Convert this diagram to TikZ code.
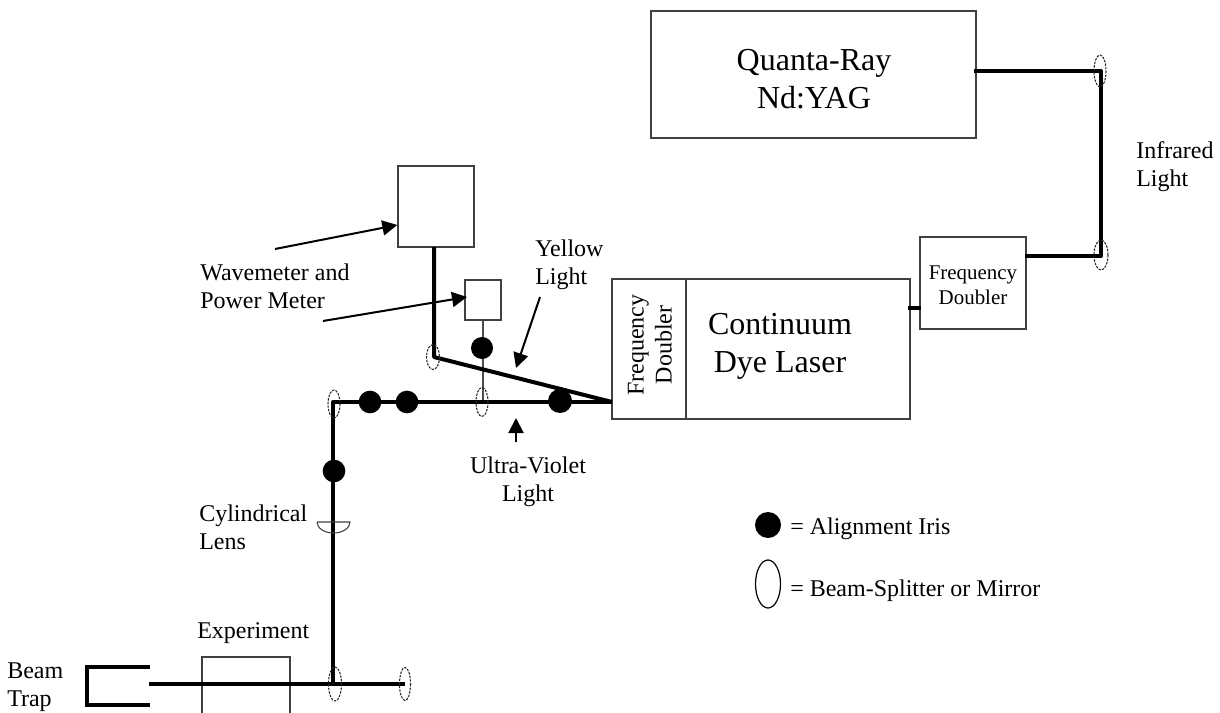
\documentclass[tikz,border=0pt]{standalone}
\usepackage{fontspec}
\setmainfont{Liberation Serif}
\usetikzlibrary{arrows.meta}
\tikzset{
  box/.style={draw=black!75,line width=1pt,inner sep=0pt},
  beam/.style={draw=black,line width=3pt},
  thinbeam/.style={draw=black!70,line width=1.2pt},
  irisdot/.style={circle,fill=black,inner sep=0pt,minimum size=#1},
  mirror/.style={draw=black!85,line width=.8pt,dash pattern=on 1.8pt off .9pt},
  pointer/.style={draw=black,line width=1.5pt,-{Triangle[length=11.25pt,width=11.25pt]}},
  lab/.style={inner sep=0pt,align=left,font=\fontsize{18}{21}\selectfont},
  big/.style={inner sep=0pt,align=center,font=\fontsize{24}{29}\selectfont},
  small/.style={inner sep=0pt,align=center,font=\fontsize{15.7}{18.6}\selectfont},
}
\begin{document}
\begin{tikzpicture}[x=.75pt,y=-.75pt]
\useasboundingbox (0,0) rectangle (1220,713);
% boxes
\node[box,minimum width=243.75pt,minimum height=95.25pt] (quanta) at (813.5,74.5) {};
\node[box,minimum width=79.5pt,minimum height=69pt] (fd) at (973,283) {};
\node[box,minimum width=223.5pt,minimum height=105pt] (dye) at (761,349) {};
\coordinate (divtop) at (686,279); \coordinate (divbot) at (686,419);
\draw[box] (divtop) -- (divbot);
\node[box,minimum width=57pt,minimum height=60.75pt] (wave) at (436,206.5) {};
\node[box,minimum width=27pt,minimum height=30pt] (power) at (483,300) {};
\coordinate (exa) at (202,713); \coordinate (exb) at (202,657); \coordinate (exc) at (290,657); \coordinate (exd) at (290,713);
\draw[box] (exa) -- (exb) -- (exc) -- (exd);
% junctions
\coordinate (m1) at (1101,71);
\coordinate (m2) at (1101,256);
\coordinate (m3) at (434,357);
\coordinate (m4) at (333,402);
\coordinate (m5) at (483,402);
\coordinate (m6) at (333,684);
\coordinate (m7) at (405,684);
\coordinate (qout) at (974,71);
\coordinate (fdout) at (1025,256);
\coordinate (dyeout) at (612,402);
\coordinate (wavein) at (434,247);
\coordinate (beamend) at (149,684);
\coordinate (ta) at (150,667); \coordinate (tb) at (87,667); \coordinate (tc) at (87,705); \coordinate (td) at (150,705);
% beams
\draw[thinbeam] (power.south) -- (m5);
\draw[beam,line join=round] (qout) -- (m1) -- (m2) -- (fdout);
\coordinate (la) at (908,308); \coordinate (lb) at (921,308);
\draw[beam] (la) -- (lb);
\draw[beam,line join=round] (wavein) -- (m3) -- (dyeout);
\draw[beam,line join=round] (dyeout) -- (m4) -- (m6);
\draw[beam] (beamend) -- (m7);
\draw[line width=3.2pt,miter limit=10] (ta) -- (tb) -- (tc) -- (td);
% irises
\node[irisdot=16.5pt] (i1) at (482,348) {};
\node[irisdot=17pt] (i2) at (370,402) {};
\node[irisdot=17pt] (i3) at (407,402) {};
\node[irisdot=18pt] (i4) at (560,401) {};
\node[irisdot=17pt] (i5) at (334,471) {};
% mirrors
\draw[mirror] (1100,71) ellipse [x radius=6,y radius=16];
\draw[mirror] (1101,255) ellipse [x radius=7,y radius=15];
\draw[mirror] (433,357) ellipse [x radius=6.5,y radius=12.5];
\draw[mirror] (334,404) ellipse [x radius=6,y radius=14];
\draw[mirror] (482,402) ellipse [x radius=6,y radius=14.5];
\draw[mirror] (335,684) ellipse [x radius=6.5,y radius=17];
\draw[mirror] (405,684) ellipse [x radius=5.5,y radius=16.5];
% lens
\draw[black!75,line width=.8pt] (317,522) -- (350,522) arc[start angle=0,end angle=180,x radius=16.5,y radius=11];
% pointers
\coordinate (p1) at (275,249); \coordinate (p2) at (323,321); \coordinate (p2e) at (467,297); \coordinate (p3) at (540,297);
\coordinate (p3e) at (516,368); \coordinate (p4) at (516,442); \coordinate (p4e) at (516,418);
\draw[pointer] (p1) -- (wave.west |- 0,225);
\draw[pointer] (p2) -- (p2e);
\draw[pointer] (p3) -- (p3e);
\draw[pointer] (p4) -- (p4e);
% text
\node[big] (tq) at (814,79) {Quanta-Ray\\Nd:YAG};
\node[big] (tdl) at (780,346.5) {Continuum\\Dye Laser};
\node[small] (tf) at (973,285) {Frequency\\Doubler};
\node[lab,align=center,rotate=90] (tf2) at (650,345) {Frequency\\Doubler};
\node[lab,anchor=west] (tir) at (1136,167) {Infrared\\Light};
\node[lab,anchor=west] (ty) at (535,265) {Yellow\\Light};
\node[lab,anchor=west] (tw) at (200,286.5) {Wavemeter and\\Power Meter};
\node[lab,align=center] (tu) at (528,481.5) {Ultra-Violet\\Light};
\node[lab,anchor=west] (tc2) at (199,527.5) {Cylindrical\\Lens};
\node[lab,anchor=west] (te) at (197,633) {Experiment};
\node[lab,anchor=west] (tbt) at (7,687) {Beam\\Trap};
% legend
\node[irisdot=19.5pt] (li) at (768,525) {};
\draw[black,line width=.9pt] (768,584) ellipse [x radius=12.5,y radius=24];
\node[lab,anchor=west] (l1) at (790,529) {= Alignment Iris};
\node[lab,anchor=west] (l2) at (790,591) {= Beam-Splitter or Mirror};
\end{tikzpicture}
\end{document}
